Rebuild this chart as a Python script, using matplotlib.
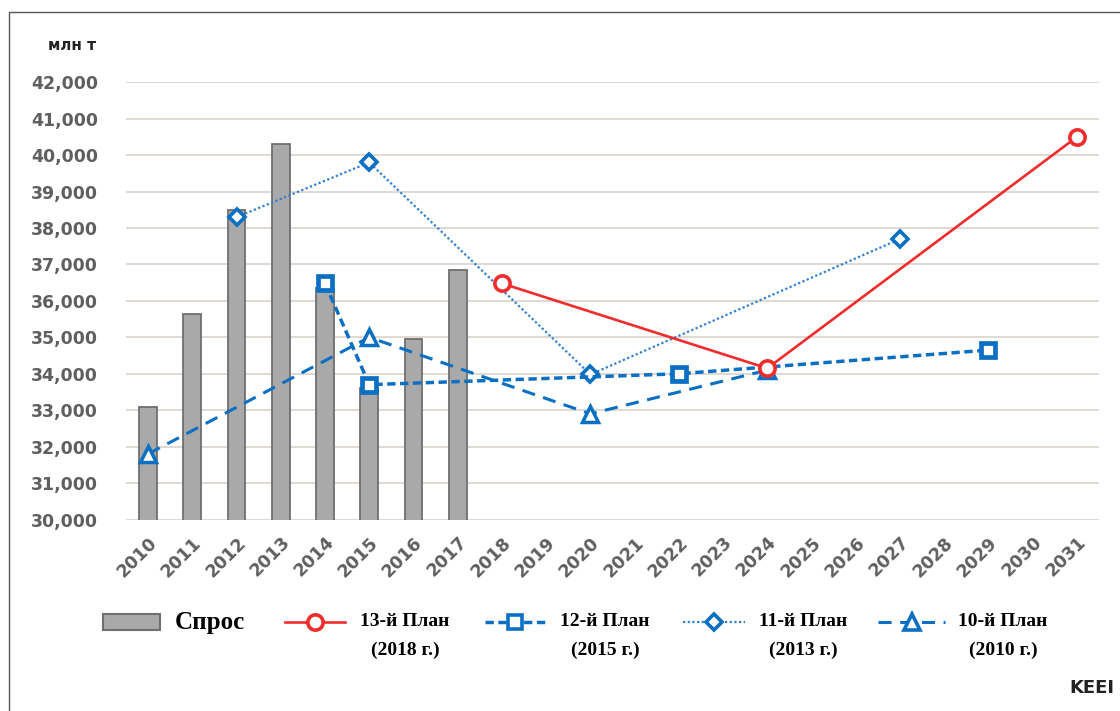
import matplotlib
matplotlib.use("Agg")
import matplotlib.pyplot as plt
from matplotlib.lines import Line2D
from matplotlib.patches import Rectangle

# category axis
years = list(range(2010, 2032))

# actual demand (bars)
demand_years = [2010, 2011, 2012, 2013, 2014, 2015, 2016, 2017]
demand = [33100, 35650, 38500, 40300, 36350, 33600, 34950, 36850]

# plan forecasts
plan13_years = [2018, 2024, 2031]
plan13 = [36480, 34150, 40500]
plan12_years = [2014, 2015, 2022, 2029]
plan12 = [36480, 33700, 34000, 34650]
plan11_years = [2012, 2015, 2020, 2027]
plan11 = [38300, 39800, 33980, 37700]
plan10_years = [2010, 2015, 2020, 2024]
plan10 = [31800, 35000, 32900, 34100]

RED = "#f02c2c"
BLUE = "#0b6fc4"
BLUE2 = "#2f7fd0"
TICK = "#5f5f5f"


def idx(yrs):
    return [years.index(y) for y in yrs]


fig = plt.figure(figsize=(11.2, 7.11), dpi=100)
ax = fig.add_axes([126 / 1120, 1 - 519.5 / 711, 973 / 1120, 437.2 / 711])

ax.bar(idx(demand_years), demand, width=0.4, bottom=0,
       color="#a9a9a9", edgecolor="#6f6f6f", linewidth=1.3, zorder=2)

ax.plot(idx(plan10_years), plan10, color=BLUE, lw=2.2, dashes=(4.3, 2.8),
        marker="^", ms=11, mfc="white", mec=BLUE, mew=2.5, zorder=3)
ax.plot(idx(plan11_years), plan11, color=BLUE2, lw=1.6, dashes=(1.0, 1.1),
        marker="D", ms=8.5, mfc="white", mec=BLUE, mew=2.6, zorder=4)
ax.plot(idx(plan12_years), plan12, color=BLUE, lw=2.5, dashes=(2.4, 1.3),
        marker="s", ms=10, mfc="white", mec=BLUE, mew=3.4, zorder=5)
ax.plot(idx(plan13_years), plan13, color=RED, lw=1.9,
        marker="o", ms=11, mfc="white", mec=RED, mew=2.6, zorder=6)

ax.set_ylim(30000, 42000)
ax.set_xlim(-0.5, len(years) - 0.5)
ax.set_yticks(range(30000, 42001, 1000))
ax.set_yticklabels([f"{v:,}" for v in range(30000, 42001, 1000)],
                   fontsize=12.5, fontweight="bold", color=TICK)
ax.set_xticks(range(len(years)))
ax.set_xticklabels([str(y) for y in years], rotation=45, ha="right",
                   rotation_mode="anchor", fontsize=12.5, fontweight="bold",
                   color=TICK)
ax.tick_params(axis="y", length=0, pad=20)
ax.tick_params(axis="x", length=0, pad=10)
ax.grid(axis="y", color="#ddd6d0", lw=1.3, zorder=0)
ax.set_axisbelow(True)
for s in ax.spines.values():
    s.set_visible(False)

fig.text(72 / 1120, 1 - 45 / 711, "млн т", ha="center", va="center",
         fontsize=11, fontweight="bold", color="#222222")

# outer frame
fig.add_artist(Rectangle((9 / 1120, -0.05), 1.1, 1 - 12 / 711 + 0.05,
                         transform=fig.transFigure, fill=False,
                         edgecolor="#555555", lw=1.0))

# legend, drawn by hand so the two-line labels sit like the original
ly = 1 - 622 / 711
ly2 = 1 - 650 / 711
serif = "Liberation Serif"
fig.add_artist(Rectangle((103 / 1120, ly - 8 / 711), 57 / 1120, 16 / 711,
                         transform=fig.transFigure, facecolor="#a9a9a9",
                         edgecolor="#6f6f6f", lw=1.5))
fig.text(175 / 1120, ly, "Спрос", ha="left", va="center", fontsize=18,
         fontweight="bold", family=serif)

entries = [
    (285, 345, RED, "o", dict(lw=1.9), "13-й План", "(2018 г.)", 405),
    (485, 545, BLUE, "s", dict(lw=2.5, dashes=(2.4, 1.3)), "12-й План", "(2015 г.)", 605),
    (683, 745, BLUE2, "D", dict(lw=1.6, dashes=(1.0, 1.1)), "11-й План", "(2013 г.)", 803),
    (878, 945, BLUE, "^", dict(lw=2.2, dashes=(4.3, 2.8)), "10-й План", "(2010 г.)", 1003),
]
for x0, x1, col, mk, style, l1, l2, tx in entries:
    ln = Line2D([x0 / 1120, x1 / 1120], [ly, ly], color=col,
                transform=fig.transFigure, **style)
    fig.add_artist(ln)
    mec = RED if mk == "o" else BLUE
    ms = {"o": 11, "s": 10, "D": 8.5, "^": 11}[mk]
    mkr = Line2D([(x0 + x1) / 2240], [ly], marker=mk, ms=ms, mfc="white",
                 mec=mec, mew=2.6, lw=0, transform=fig.transFigure)
    fig.add_artist(mkr)
    fig.text(tx / 1120, ly, l1, ha="center", va="center", fontsize=14,
             fontweight="bold", family=serif)
    fig.text(tx / 1120, ly2, l2, ha="center", va="center", fontsize=14,
             fontweight="bold", family=serif)

fig.text(1092 / 1120, 1 - 688 / 711, "KEEI", ha="center", va="center",
         fontsize=13, fontweight="bold", color="#222222")

fig.savefig("out.png", dpi=100, facecolor="white")
